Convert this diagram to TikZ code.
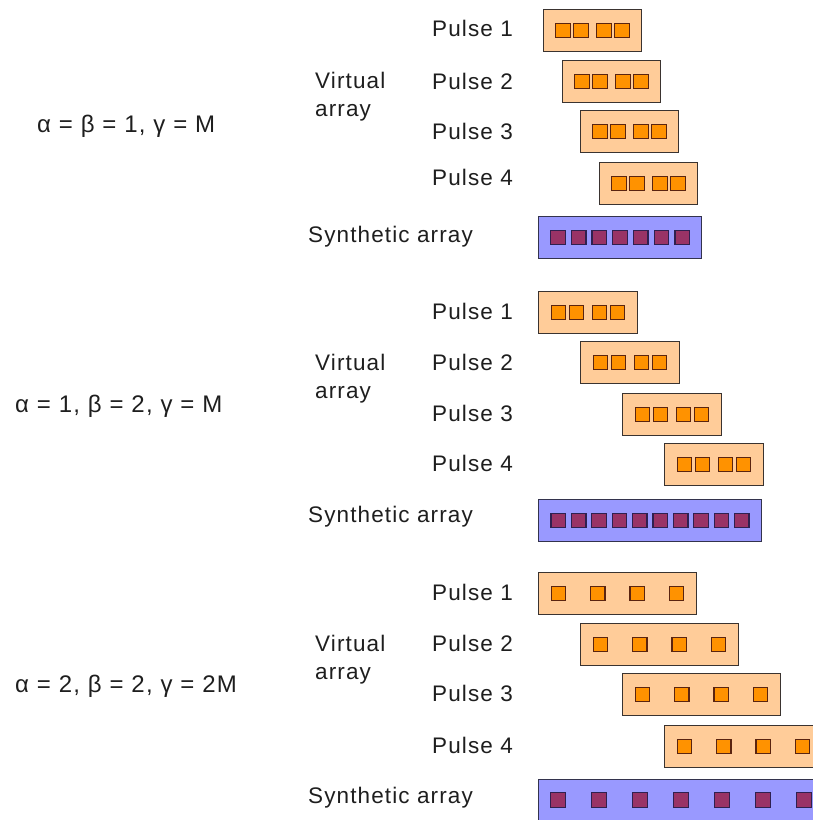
\documentclass[tikz,border=0pt]{standalone}
\usepackage{fontspec}
\usepackage{xcolor}
\usepackage{tikz}
\newfontfamily\labelfont{Liberation Sans}[LetterSpace=5]
\definecolor{ink}{HTML}{1E1E1E}
\definecolor{peach}{HTML}{FFCC99}
\definecolor{amber}{HTML}{FF9200}
\definecolor{rimdark}{HTML}{3A3330}
\definecolor{amberrim}{HTML}{5A2410}
\definecolor{lavender}{HTML}{9999FF}
\definecolor{plum}{HTML}{993366}
\definecolor{plumrim}{HTML}{2E2050}
\definecolor{synrim}{HTML}{33334D}

\begin{document}
\begin{tikzpicture}[x=1bp,y=-1bp,
  txt/.style={anchor=base west,inner sep=0pt,text=ink,
              font=\labelfont\fontsize{22.5bp}{28bp}\selectfont},
  case/.style={txt,font=\labelfont\fontsize{24bp}{28bp}\selectfont},
  pulse/.style={anchor=north west,draw=rimdark,fill=peach,line width=1.1pt,
                minimum height=42bp,inner sep=0pt},
  synth/.style={pulse,draw=synrim,fill=lavender},
  vel/.style={draw=amberrim,fill=amber,line width=1.3pt,minimum size=14.5bp,
              inner sep=0pt},
  sel/.style={vel,draw=plumrim,fill=plum}
]
\clip (0,0) rectangle (813,820);
\useasboundingbox (0,0) rectangle (813,820);

% case 1: alpha = beta = 1
\node[case] (c1) at (37,132) {α = β = 1, γ = M};
\node[txt,align=left] (v1) at (315,116) {Virtual\\array};
\node[txt] (s1) at (308,242) {Synthetic array};
\foreach \k/\px/\py/\by in {1/543/9/37, 2/562/60/89, 3/580/110/139, 4/599/162/185}{
  \node[txt] (l1-\k) at (432,\by) {Pulse \k};
  \node[pulse,minimum width=98bp] (p1-\k) at (\px,\py) {};
  \foreach \dx [count=\i] in {-29.5,-11.5,11.5,29.5}
    \node[vel] (e1-\k-\i) at ([xshift=\dx bp]p1-\k.center) {};
}
\node[synth,minimum width=163bp] (a1) at (538,216) {};
\foreach \i in {0,...,6}
  \node[sel] (q1-\i) at ([xshift=-62.1bp+\i*20.7bp]a1.center) {};

% case 2: alpha = 1, beta = 2
\node[case] (c2) at (15,412) {α = 1, β = 2, γ = M};
\node[txt,align=left] (v2) at (315,398) {Virtual\\array};
\node[txt] (s2) at (308,522) {Synthetic array};
\foreach \k/\px/\py/\by in {1/538/291/319, 2/580/341/370, 3/622/393/421, 4/664/443/471}{
  \node[txt] (l2-\k) at (432,\by) {Pulse \k};
  \node[pulse,minimum width=99bp] (p2-\k) at (\px,\py) {};
  \foreach \dx [count=\i] in {-29.5,-11.5,11.5,29.5}
    \node[vel] (e2-\k-\i) at ([xshift=\dx bp]p2-\k.center) {};
}
\node[synth,minimum width=223bp] (a2) at (538,499) {};
\foreach \i in {0,...,9}
  \node[sel] (q2-\i) at ([xshift=-91.8bp+\i*20.4bp]a2.center) {};

% case 3: alpha = 2, beta = 2
\node[case] (c3) at (15,692) {α = 2, β = 2, γ = 2M};
\node[txt,align=left] (v3) at (315,679) {Virtual\\array};
\node[txt] (s3) at (308,803) {Synthetic array};
\foreach \k/\px/\py/\by in {1/538/572/600, 2/580/623/651, 3/622/673/701, 4/664/725/753}{
  \node[txt] (l3-\k) at (432,\by) {Pulse \k};
  \node[pulse,minimum width=158bp] (p3-\k) at (\px,\py) {};
  \foreach \dx [count=\i] in {-59,-19.7,19.7,59}
    \node[vel] (e3-\k-\i) at ([xshift=\dx bp]p3-\k.center) {};
}
\node[synth,minimum width=330bp] (a3) at (538,779) {};
\foreach \i in {0,...,7}
  \node[sel] (q3-\i) at (558+\i*41,800) {};
\end{tikzpicture}
\end{document}
